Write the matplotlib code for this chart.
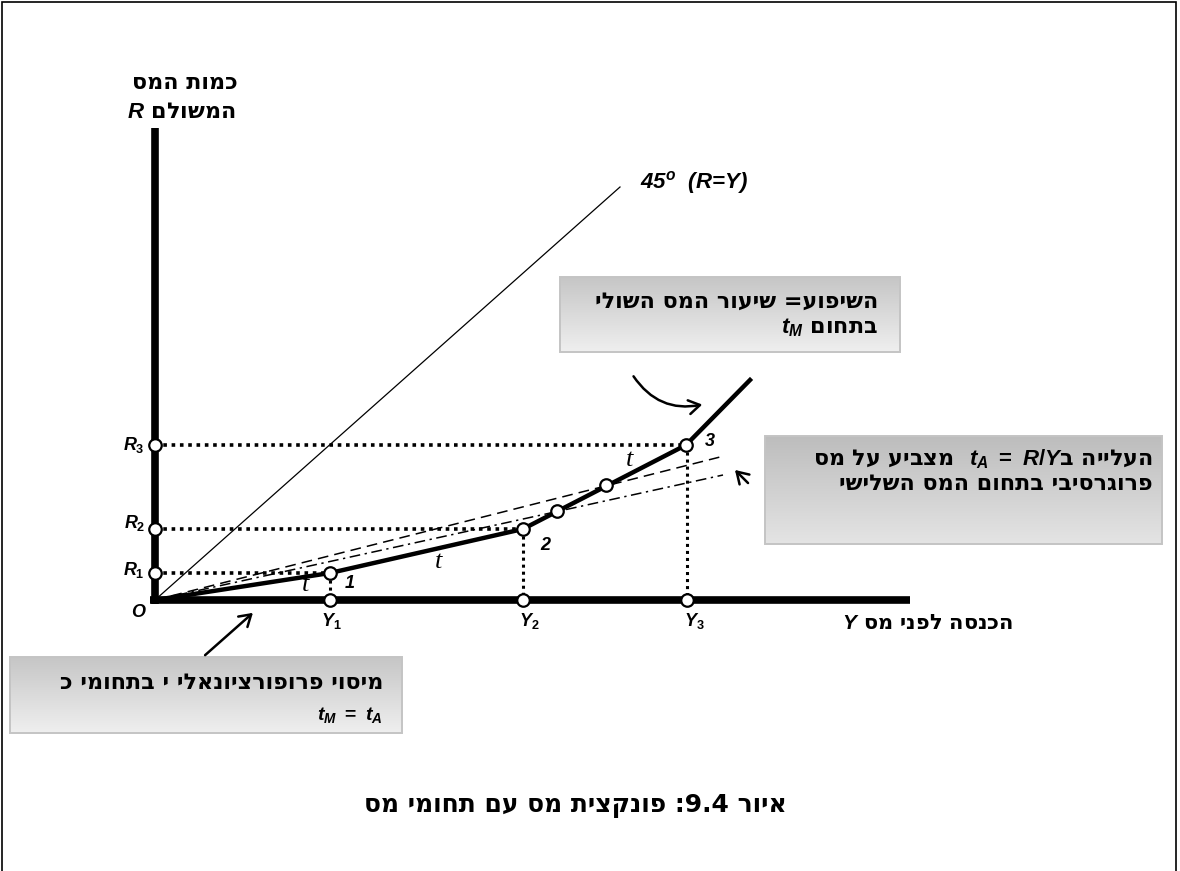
import numpy as np
import matplotlib
matplotlib.use('Agg')
import matplotlib.pyplot as plt
from matplotlib.patches import Rectangle, FancyArrowPatch
from matplotlib.colors import LinearSegmentedColormap

plt.rcParams['mathtext.fontset'] = 'custom'
plt.rcParams['mathtext.it'] = 'Liberation Sans:italic:bold'
plt.rcParams['mathtext.rm'] = 'Liberation Sans:bold'
plt.rcParams['mathtext.bf'] = 'Liberation Sans:bold'

SANS = ['Liberation Sans', 'DejaVu Sans']
HEB = ['DejaVu Sans']
SERIF = ['Liberation Serif', 'DejaVu Serif', 'DejaVu Sans']


def heb(s):
    # matplotlib has no bidi, so hebrew goes in visual order
    return s[::-1]


# data (units: income Y on x, tax R on y)
tax_y = [0, 1.75, 3.68, 5.31, 5.95]
tax_r = [0, 0.27, 0.71, 1.55, 2.20]
Y_marks = [1.75, 3.68, 5.32]
R_marks = [0.27, 0.71, 1.55]
mid_y = [4.02, 4.51]
mid_r = [0.89, 1.15]
line45 = [(0, 0), (4.65, 4.13)]
avg_dash = [(0, 0), (5.69, 1.44)]
avg_dashdot = [(0, 0), (5.68, 1.25)]
axis_top = 4.72
axis_right = 7.55
Y_names = ['$Y_{\\mathit{1}}$', '$Y_{\\mathit{2}}$', '$Y_{\\mathit{3}}$']
R_names = ['$R_{\\mathit{1}}$', '$R_{\\mathit{2}}$', '$R_{\\mathit{3}}$']
pt_names = ['1', '2', '3']

fig = plt.figure(figsize=(11.8, 8.71), dpi=100)
ax = fig.add_axes([0, 0, 1, 1])
ax.set_xlim(-1.55, 10.25)
ax.set_ylim(-2.71, 6.00)
ax.axis('off')

# outer frame
fig.patches.append(Rectangle((0.002, -0.05), 0.995, 1.048, transform=fig.transFigure,
                             fill=False, ec='black', lw=1.2))

# axes
ax.plot([0, 0], [-0.035, axis_top], color='black', lw=5.5, solid_capstyle='butt', zorder=4)
ax.plot([-0.05, axis_right], [0, 0], color='black', lw=5.5, solid_capstyle='butt', zorder=4)

# 45 degree line
ax.plot([p[0] for p in line45], [p[1] for p in line45], color='black', lw=0.9, zorder=3)
ax.text(4.85, 4.18, '45$^o$  ($R$=$Y$)', fontsize=16, ha='left', va='center',
        fontfamily=SANS, fontweight='bold', style='italic')

# average tax lines
ax.plot([p[0] for p in avg_dash], [p[1] for p in avg_dash], color='black', lw=1.1,
        ls=(0, (7, 4)), zorder=3)
ax.plot([p[0] for p in avg_dashdot], [p[1] for p in avg_dashdot], color='black', lw=1.1,
        ls=(0, (7, 3, 1.5, 3)), zorder=3)

# dotted guides
dots = (0, (1, 1.3))
for yv, rv in zip(Y_marks, R_marks):
    ax.plot([0, yv], [rv, rv], color='black', lw=2.6, ls=dots, zorder=3)
    ax.plot([yv, yv], [rv, 0], color='black', lw=2.2, ls=dots, zorder=3)

# tax function
ax.plot(tax_y, tax_r, color='black', lw=3.2, solid_joinstyle='round', zorder=5)

# circles
circ = dict(marker='o', ms=9, mfc='white', mec='black', mew=1.6, ls='none', zorder=6)
ax.plot(tax_y[1:4], tax_r[1:4], **circ)
ax.plot(Y_marks, [0] * 3, **circ)
ax.plot([0] * 3, R_marks, **circ)
ax.plot(mid_y, mid_r, **circ)

# labels on axes
lab = dict(fontsize=13, fontfamily=SANS, fontweight='bold', style='italic')
ax.text(-0.17, -0.12, 'O', ha='center', va='center', **lab)
for name, rv, dy in zip(R_names, R_marks, [0.03, 0.06, 0.0]):
    ax.text(-0.10, rv + dy, name, ha='right', va='center', **lab)
for name, yv, dx in zip(Y_names, Y_marks, [0.01, 0.06, 0.07]):
    ax.text(yv + dx, -0.21, name, ha='center', va='center', **lab)
for name, yv, rv, dx, dy in zip(pt_names, tax_y[1:4], tax_r[1:4],
                                [0.20, 0.22, 0.24], [-0.10, -0.16, 0.04]):
    ax.text(yv + dx, rv + dy, name, ha='center', va='center', **lab)

# slope t labels
for tx, tr in [(1.51, 0.15), (2.84, 0.38), (4.75, 1.40)]:
    ax.text(tx, tr, 't', fontsize=19, fontfamily=SERIF, style='italic',
            ha='center', va='center')

# axis titles
heb_b = dict(fontfamily=HEB, fontweight='bold', fontsize=16)
ax.text(0.30, 5.17, heb('כמות המס'), ha='center', va='center', **heb_b)
ax.text(0.26, 4.88, '$R$ ' + heb('המשולם'), ha='center', va='center', **heb_b)
ax.text(8.58, -0.23, '$Y$ ' + heb('הכנסה לפני מס'), ha='right', va='center',
        fontfamily=HEB, fontweight='bold', fontsize=15)


def gbox(x0, x1, r0, r1, top, bot):
    cm = LinearSegmentedColormap.from_list('g', [top, bot])
    grad = np.linspace(0, 1, 100).reshape(-1, 1)
    ax.imshow(grad, cmap=cm, extent=(x0, x1, r0, r1), aspect='auto',
              origin='upper', zorder=1)
    ax.add_patch(Rectangle((x0, r0), x1 - x0, r1 - r0, fill=False,
                           ec='#c4c4c4', lw=1.4, zorder=2))


# box 1: marginal rate
gbox(4.05, 7.45, 2.48, 3.23, '#c6c6c6', '#efefef')
ax.text(7.23, 2.98, heb('השיפוע= שיעור המס השולי'), ha='right', va='center', **heb_b)
ax.text(7.23, 2.72, '$t_M$ ' + heb('בתחום'), ha='right', va='center', **heb_b)
ax.add_patch(FancyArrowPatch((4.77, 2.26), (5.50, 1.96), connectionstyle='arc3,rad=0.35',
                             arrowstyle='->,head_length=8,head_width=5', lw=1.8,
                             color='black', zorder=6))

# box 2: average rate
gbox(6.10, 10.07, 0.56, 1.64, '#bdbdbd', '#e4e4e4')
ax.text(9.98, 1.41, heb('מצביע על מס') + '  $t_A\\ =\\ R/Y$' + heb('העלייה ב'),
        ha='right', va='center', **heb_b)
ax.text(9.98, 1.16, heb('פרוגרסיבי בתחום המס השלישי'), ha='right', va='center', **heb_b)
ax.add_patch(FancyArrowPatch((5.95, 1.15), (5.78, 1.32),
                             arrowstyle='->,head_length=8,head_width=5', lw=1.8,
                             color='black', zorder=6))

# box 3: proportional
gbox(-1.45, 2.47, -1.33, -0.57, '#c6c6c6', '#efefef')
ax.text(2.28, -0.83, heb('מיסוי פרופורציונאלי י בתחומי כ'), ha='right', va='center', **heb_b)
ax.text(2.28, -1.15, '$t_M\\ =\\ t_A$', ha='right', va='center',
        fontfamily=SANS, fontweight='bold', fontsize=14)
ax.add_patch(FancyArrowPatch((0.48, -0.57), (1.00, -0.11),
                             arrowstyle='->,head_length=8,head_width=5', lw=1.8,
                             color='black', zorder=6))

# caption
ax.text(4.20, -2.06, heb(': פונקצית מס עם תחומי מס') + '9.4' + heb('איור '),
        ha='center', va='center', fontfamily=HEB, fontweight='bold', fontsize=18)

fig.savefig('out.png', dpi=100)
